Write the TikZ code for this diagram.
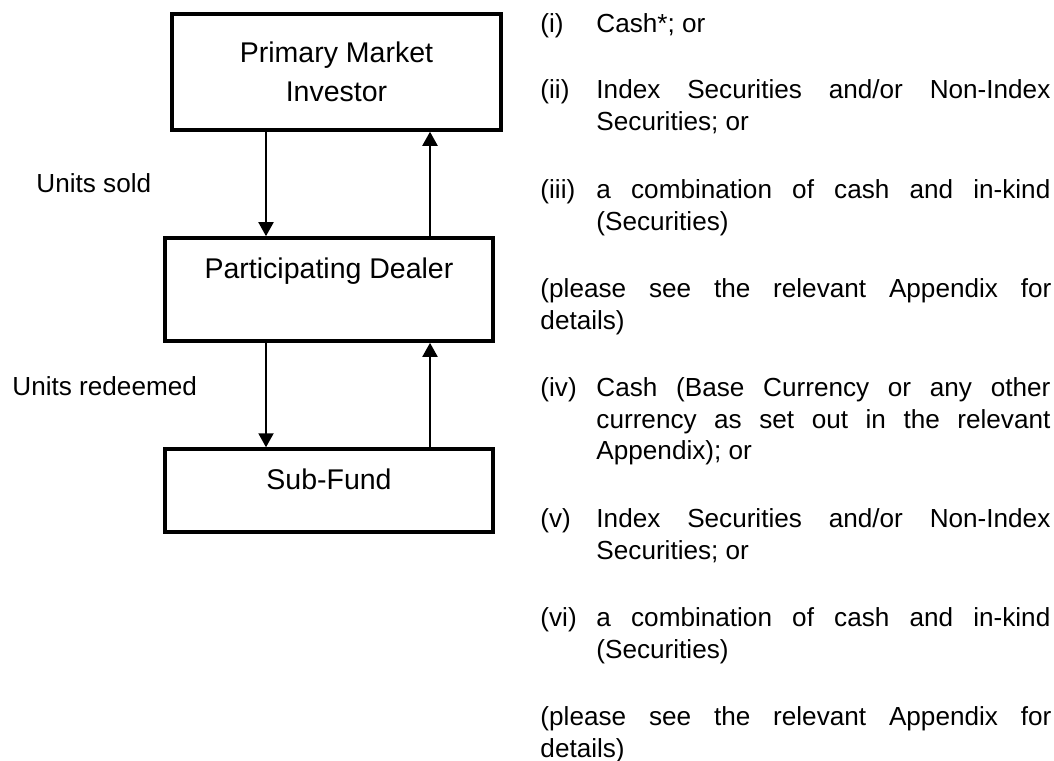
\documentclass[tikz,border=0pt]{standalone}
\usepackage{fontspec}
\setmainfont{Liberation Sans}
\usetikzlibrary{arrows.meta}
\tikzstyle{flowbox}=[
    draw, line width=1.5pt,
    inner sep=0pt,
    align=center,
    font=\fontsize{12}{16.4}\selectfont,
]
\tikzstyle{flow}=[
    line width=0.9pt,
    -{Triangle[length=5.9pt,width=6.3pt]},
]
\tikzstyle{sidetext}=[
    anchor=base west, inner sep=0pt,
    font=\fontsize{11}{13.47}\selectfont,
]
\tikzstyle{itemtext}=[sidetext, text width=191.1pt, align=justify]

\begin{document}
\begin{tikzpicture}[x=0.421pt, y=-0.421pt]
        \useasboundingbox (0,0) rectangle (1054,760);
        % the three parties
        \node (investor) at (336.5, 72) [flowbox, minimum width=138.5pt, minimum height=48.8pt] {Primary Market\\Investor};
        \node (dealer) at (329, 289.5) [flowbox, minimum width=138.1pt, minimum height=43.4pt, text height=8.8pt, text depth=17.7pt] {Participating Dealer};
        \node (subfund) at (329, 490.5) [flowbox, minimum width=138.1pt, minimum height=34.9pt, text height=8.8pt, text depth=9.3pt] {Sub-Fund};
        \coordinate (downx) at (266, 0);
        \coordinate (upx) at (430, 0);
        \draw[flow] (investor.south -| downx) -- (dealer.north -| downx);
        \draw[flow] (dealer.north -| upx) -- (investor.south -| upx);
        \draw[flow] (dealer.south -| downx) -- (subfund.north -| downx);
        \draw[flow] (subfund.north -| upx) -- (dealer.south -| upx);
        \node (sold) at (36, 192) [sidetext] {Units sold};
        \node (redeemed) at (12, 395) [sidetext] {Units redeemed};
        % what moves the other way
        \node (li) at (540, 32) [sidetext] {(i)};
        \node (ti) at (596, 32) [itemtext] {Cash*; or};
        \node (lii) at (540, 98) [sidetext] {(ii)};
        \node (tii) at (596, 98) [itemtext] {Index Securities and/or Non-Index\linebreak Securities; or};
        \node (liii) at (540, 198) [sidetext] {(iii)};
        \node (tiii) at (596, 198) [itemtext] {a combination of cash and in-kind\linebreak (Securities)};
        \node (notea) at (540, 297) [itemtext, text width=215.1pt] {(please see the relevant Appendix for\linebreak details)};
        \node (liv) at (540, 396) [sidetext] {(iv)};
        \node (tiv) at (596, 396) [itemtext] {Cash (Base Currency or any other\linebreak currency as set out in the relevant\linebreak Appendix); or};
        \node (lv) at (540, 527) [sidetext] {(v)};
        \node (tv) at (596, 527) [itemtext] {Index Securities and/or Non-Index\linebreak Securities; or};
        \node (lvi) at (540, 626) [sidetext] {(vi)};
        \node (tvi) at (596, 626) [itemtext] {a combination of cash and in-kind\linebreak (Securities)};
        \node (noteb) at (540, 725) [itemtext, text width=215.1pt] {(please see the relevant Appendix for\linebreak details)};
\end{tikzpicture}
\end{document}
